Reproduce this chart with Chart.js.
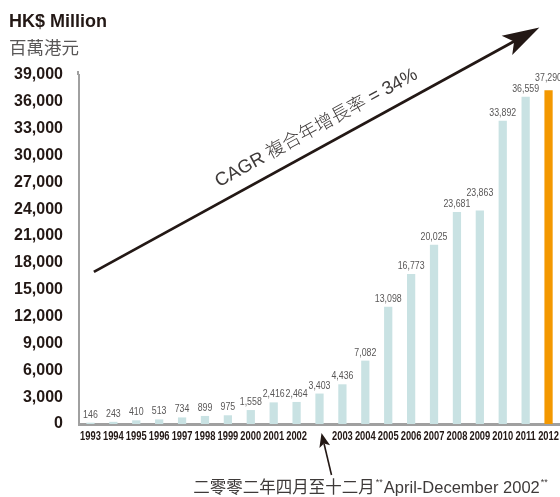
<!DOCTYPE html>
<html>
<head>
<meta charset="utf-8">
<script src="https://cdn.jsdelivr.net/npm/chart.js@4.4.1/dist/chart.umd.min.js"></script>
<style>
    html, body { margin: 0; padding: 0; background: #fff; }
    #wrap { width: 560px; height: 497px; position: relative; }
</style>
</head>
<body>
<div id="wrap"><canvas id="chart"></canvas></div>
<script>
// categories (blank slot = April-December 2002 period)
const years = ['1993', '1994', '1995', '1996', '1997', '1998', '1999', '2000', '2001', '2002', '',
    '2003', '2004', '2005', '2006', '2007', '2008', '2009', '2010', '2011', '2012'];

// HK$ million
const amounts = [146, 243, 410, 513, 734, 899, 975, 1558, 2416, 2464, 3403,
    4436, 7082, 13098, 16773, 20025, 23681, 23863, 33892, 36559, 37290];

const yTicks = [0, 3000, 6000, 9000, 12000, 15000, 18000, 21000, 24000, 27000, 30000, 33000, 36000, 39000];

const titleEn = 'HK$ Million';
const titleZh = '百萬港元';
const cagrText = 'CAGR 複合年增長率 = 34%';
const noteZh = '二零零二年四月至十二月';
const noteEn = 'April-December 2002';

const TEAL = '#c9e2e3';
const ORANGE = '#f39800';
const INK = '#231815';
const GREY = '#595757';
const LATIN = '"Liberation Sans", "Noto Sans CJK TC", sans-serif';

const fmt = v => v.toLocaleString('en-US');

function arrowHead(ctx, x0, y0, x1, y1, len, half) {
    const a = Math.atan2(y1 - y0, x1 - x0);
    const cos = Math.cos(a), sin = Math.sin(a);
    const bx = x1 - cos * len, by = y1 - sin * len;
    const nx = x1 - cos * len * 0.78, ny = y1 - sin * len * 0.78;
    ctx.beginPath();
    ctx.moveTo(x1, y1);
    ctx.lineTo(bx - sin * half, by + cos * half);
    ctx.lineTo(nx, ny);
    ctx.lineTo(bx + sin * half, by - cos * half);
    ctx.closePath();
    ctx.fill();
}

// x pixel for a fractional category index
function xAt(scale, idx) {
    const a = scale.getPixelForValue(0), b = scale.getPixelForValue(1);
    return a + (b - a) * idx;
}

// narrow text: squeeze horizontally
function narrowText(ctx, txt, x, y, sx) {
    ctx.save();
    ctx.translate(x, y);
    ctx.scale(sx, 1);
    ctx.fillText(txt, 0, 0);
    ctx.restore();
}

const extras = {
    id: 'extras',
    afterDatasetsDraw(chart) {
        const ctx = chart.ctx;
        const xs = chart.scales.x, ys = chart.scales.y;
        const meta = chart.getDatasetMeta(0);
        const base = ys.getPixelForValue(0);

        // y axis line runs a little above the top tick
        ctx.save();
        ctx.strokeStyle = '#a0a0a0';
        ctx.lineWidth = 2;
        ctx.beginPath();
        ctx.moveTo(xs.left - 1, ys.top);
        ctx.lineTo(xs.left - 1, ys.top - 4);
        ctx.stroke();
        ctx.restore();

        // value labels
        ctx.save();
        ctx.font = '11px "Liberation Sans", sans-serif';
        ctx.fillStyle = GREY;
        ctx.textAlign = 'center';
        ctx.textBaseline = 'alphabetic';
        let prev = null;
        meta.data.forEach((bar, i) => {
            const txt = fmt(amounts[i]);
            const w = ctx.measureText(txt).width * 0.8;
            let y = bar.y - 5;
            if (prev && bar.x - w / 2 < prev.right && Math.abs(y - prev.y) < 10) {
                y = prev.y - 11;
            }
            narrowText(ctx, txt, bar.x, y, 0.8);
            prev = { right: bar.x + w / 2, y };
        });
        ctx.restore();

        // category labels
        ctx.save();
        ctx.font = 'bold 12px "Liberation Sans", sans-serif';
        ctx.fillStyle = INK;
        ctx.textAlign = 'center';
        ctx.textBaseline = 'middle';
        years.forEach((lab, i) => {
            if (lab) narrowText(ctx, lab, xs.getPixelForValue(i), base + 13, 0.78);
        });
        ctx.restore();

        // titles
        ctx.save();
        ctx.fillStyle = INK;
        ctx.font = 'bold 18px ' + LATIN;
        ctx.textBaseline = 'alphabetic';
        ctx.fillText(titleEn, 9, 27);
        ctx.fillStyle = GREY;
        ctx.font = '17.5px "Noto Sans CJK TC", sans-serif';
        ctx.fillText(titleZh, 9, 54);
        ctx.restore();

        // CAGR arrow
        const sx = xAt(xs, 0.15), sy = ys.getPixelForValue(17000);
        const ex = xAt(xs, 19.6), ey = ys.getPixelForValue(44300);
        ctx.save();
        ctx.strokeStyle = INK;
        ctx.fillStyle = INK;
        ctx.lineWidth = 2.8;
        const ang = Math.atan2(ey - sy, ex - sx);
        ctx.beginPath();
        ctx.moveTo(sx, sy);
        ctx.lineTo(ex - Math.cos(ang) * 25, ey - Math.sin(ang) * 25);
        ctx.stroke();
        arrowHead(ctx, sx, sy, ex, ey, 37, 11);

        // text along the arrow
        const t = 0.52;
        const px = sx + (ex - sx) * t, py = sy + (ey - sy) * t;
        ctx.translate(px, py);
        ctx.rotate(ang);
        ctx.font = '300 18.5px ' + LATIN;
        ctx.fillStyle = '#3e3a39';
        ctx.textAlign = 'center';
        ctx.textBaseline = 'alphabetic';
        ctx.fillText(cagrText, 0, -14);
        ctx.restore();

        // note arrow to the Apr-Dec 2002 slot
        const bx = xAt(xs, 10);
        ctx.save();
        ctx.strokeStyle = INK;
        ctx.fillStyle = INK;
        ctx.lineWidth = 1.6;
        const tx = bx + 2, ty = base + 9;
        const fx = bx + 12, fy = base + 51;
        ctx.beginPath();
        ctx.moveTo(fx, fy);
        ctx.lineTo(tx + (fx - tx) * 0.25, ty + (fy - ty) * 0.25);
        ctx.stroke();
        arrowHead(ctx, fx, fy, tx, ty, 14, 5.5);

        // note text
        const zhFont = '16.5px "Noto Sans CJK TC", sans-serif';
        const enFont = '16.5px "Liberation Sans", sans-serif';
        const starFont = '9px "Liberation Sans", sans-serif';
        ctx.font = zhFont;
        const zhW = ctx.measureText(noteZh).width;
        ctx.font = enFont;
        const enW = ctx.measureText(noteEn).width;
        ctx.font = starFont;
        const starW = ctx.measureText('**').width;
        const total = zhW + enW + starW * 2 + 4;
        let cx = xAt(xs, 12.25) - total / 2;
        const by2 = base + 69;
        ctx.fillStyle = '#3e3a39';
        ctx.textBaseline = 'alphabetic';
        ctx.font = zhFont;
        ctx.fillText(noteZh, cx, by2);
        cx += zhW + 1;
        ctx.font = starFont;
        ctx.fillText('**', cx, by2 - 8);
        cx += starW + 1;
        ctx.font = enFont;
        ctx.fillText(noteEn, cx, by2);
        cx += enW + 1;
        ctx.font = starFont;
        ctx.fillText('**', cx, by2 - 8);
        ctx.restore();
    }
};

new Chart(document.getElementById('chart'), {
    type: 'bar',
    data: {
        labels: years,
        datasets: [{
            data: amounts,
            backgroundColor: amounts.map((v, i) => i === amounts.length - 1 ? ORANGE : TEAL),
            categoryPercentage: 1,
            barPercentage: 0.36
        }]
    },
    options: {
        responsive: true,
        maintainAspectRatio: false,
        animation: false,
        events: [],
        layout: { padding: { top: 75, left: 10, right: 0, bottom: 0 } },
        plugins: {
            legend: { display: false },
            tooltip: { enabled: false }
        },
        scales: {
            x: {
                grid: { display: false },
                border: { color: '#a0a0a0', width: 3 },
                ticks: { display: false },
                afterFit(scale) { scale.height = 73; }
            },
            y: {
                min: 0,
                max: 39000,
                grid: { display: false },
                border: { color: '#a0a0a0', width: 2 },
                afterBuildTicks(scale) { scale.ticks = yTicks.map(v => ({ value: v })); },
                ticks: {
                    color: INK,
                    padding: 8,
                    font: { family: 'Liberation Sans, sans-serif', size: 16, weight: 'bold' },
                    callback: v => fmt(v)
                },
                afterFit(scale) { scale.width = 69; }
            }
        }
    },
    plugins: [extras]
});
</script>
</body>
</html>
